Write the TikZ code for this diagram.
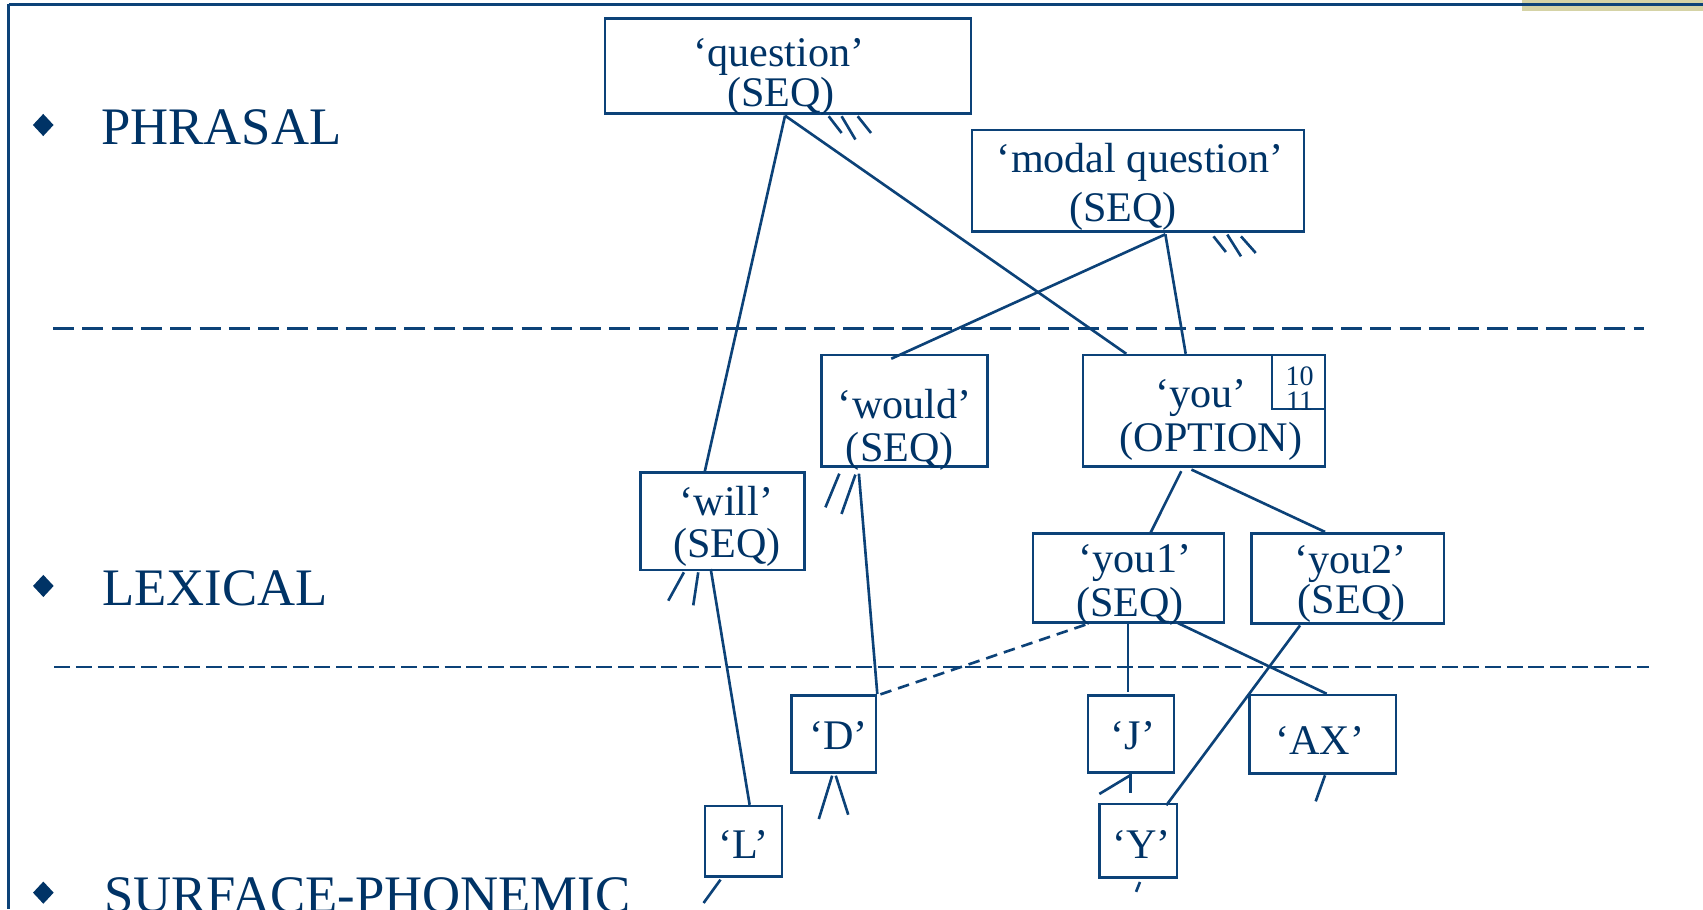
\documentclass[tikz,border=0pt]{standalone}
\usepackage{fontspec}
\setmainfont{Liberation Serif}
\definecolor{navy}{RGB}{0,51,102}
\definecolor{rulecol}{RGB}{12,66,120}
\definecolor{tabcol}{RGB}{213,211,166}
\def\pxu{0.010861cm}
\tikzset{
  unit/.style={draw=rulecol, line width=0.75pt, inner sep=0pt, rectangle},
  unitlabel/.style={font=\fontsize{12pt}{14pt}\selectfont, text=navy, anchor=base, inner sep=0pt},
  idxlabel/.style={font=\fontsize{8pt}{9pt}\selectfont, text=navy, anchor=base, inner sep=0pt},
  levellabel/.style={font=\fontsize{15pt}{18pt}\selectfont, text=navy, anchor=base west, inner sep=0pt},
  bullet/.style={fill=navy},
  link/.style={draw=rulecol, line width=0.75pt},
  linkdash/.style={link, dash pattern=on 3.3pt off 2pt},
  stub/.style={draw=rulecol, line width=0.75pt},
  levelrule/.style={draw=rulecol, line width=0.8pt, dash pattern=on 5.97pt off 2.36pt},
  levelrulethin/.style={draw=rulecol, line width=0.6pt, dash pattern=on 4.55pt off 1.62pt},
  frame/.style={draw=rulecol, line width=0.75pt},
}

\begin{document}
\begin{tikzpicture}[x=0.010861cm, y=-0.010861cm]
\useasboundingbox (0,0) rectangle (1568,837);
% slide frame
\fill[tabcol] (1401,0) rectangle (1568,10);
\draw[frame] (7.9,3.9) -- (1568,3.9);
\draw[frame] (7.9,3.9) -- (7.9,837);
% levels
\fill[bullet] (39.8,104.9) -- (49.3,115.1) -- (39.8,125.3) -- (30.3,115.1) -- cycle;
\fill[bullet] (39.9,529.3) -- (49.4,539.5) -- (39.9,549.7) -- (30.4,539.5) -- cycle;
\fill[bullet] (39.9,811.7) -- (49.4,821.9) -- (39.9,832.1) -- (30.4,821.9) -- cycle;
\node[levellabel] (phrasal) at (92.7,132.6) {PHRASAL};
\node[levellabel] (lexical) at (93.7,557.3) {LEXICAL};
\node[levellabel] (surface) at (95.4,840) {SURFACE-PHONEMIC};
\draw[levelrule] (49,302.3) -- (1513.7,302.3);
\draw[levelrulethin] (50,614.4) -- (1518,614.4);
% phrasal units
\node[unit, minimum width=337*\pxu, minimum height=87.3*\pxu] (question) at (725.5,60.6) {};
\node[unitlabel] (question-a) at (717,60.8) {‘question’};
\node[unitlabel] (question-b) at (719,97.6) {(SEQ)};
\node[unit, minimum width=305.6*\pxu, minimum height=93.6*\pxu] (modalq) at (1047.8,166.5) {};
\node[unitlabel] (modalq-a) at (1050,159) {‘modal question’};
\node[unitlabel] (modalq-b) at (1034,204) {(SEQ)};
% lexical units
\node[unit, minimum width=153.2*\pxu, minimum height=102.8*\pxu] (would) at (832.8,378.3) {};
\node[unitlabel] (would-a) at (833,385) {‘would’};
\node[unitlabel] (would-b) at (828.5,425) {(SEQ)};
\node[unit, minimum width=223*\pxu, minimum height=102.7*\pxu] (you) at (1108.5,378.3) {};
\node[unitlabel] (you-a) at (1106,375) {‘you’};
\node[unitlabel] (you-b) at (1115,416) {(OPTION)};
\node[unit, minimum width=49*\pxu, minimum height=49.6*\pxu] (youidx) at (1195.5,351.8) {};
\node[idxlabel] (youidx-a) at (1196.6,354.5) {10};
\node[idxlabel] (youidx-b) at (1196.6,378.4) {11};
\node[unit, minimum width=151.2*\pxu, minimum height=89.9*\pxu] (will) at (665.1,479.9) {};
\node[unitlabel] (will-a) at (669,475) {‘will’};
\node[unitlabel] (will-b) at (669.5,513) {(SEQ)};
\node[unit, minimum width=176*\pxu, minimum height=82*\pxu] (youone) at (1039,532.4) {};
\node[unitlabel] (youone-a) at (1045,527.3) {‘you1’};
\node[unitlabel] (youone-b) at (1040.5,567.8) {(SEQ)};
\node[unit, minimum width=177*\pxu, minimum height=83*\pxu] (youtwo) at (1241,532.5) {};
\node[unitlabel] (youtwo-a) at (1243.4,527.9) {‘you2’};
\node[unitlabel] (youtwo-b) at (1244.5,565.3) {(SEQ)};
% surface units
\node[unit, minimum width=77.7*\pxu, minimum height=71.2*\pxu] (phD) at (767.7,675.8) {};
\node[unitlabel] (phD-a) at (771.9,690) {‘D’};
\node[unit, minimum width=79.2*\pxu, minimum height=71.2*\pxu] (phJ) at (1041.4,675.8) {};
\node[unitlabel] (phJ-a) at (1043,690) {‘J’};
\node[unit, minimum width=135*\pxu, minimum height=72*\pxu] (phAX) at (1217.8,676) {};
\node[unitlabel] (phAX-a) at (1215,695) {‘AX’};
\node[unit, minimum width=71*\pxu, minimum height=65*\pxu] (phL) at (684.5,774.7) {};
\node[unitlabel] (phL-a) at (684.3,790.3) {‘L’};
\node[unit, minimum width=71.5*\pxu, minimum height=67.5*\pxu] (phY) at (1048,774) {};
\node[unitlabel] (phY-a) at (1051.2,790.3) {‘Y’};
% realisation links
\draw[link] ([shift={(-2.7,1)}]question.south) -- ([shift={(-16.1,0)}]will.north);
\draw[link] ([shift={(-2.7,1)}]question.south) -- ([shift={(-71.5,0)}]you.north);
\draw[link] ([shift={(25.2,1.2)}]modalq.south) -- ([shift={(-12.2,4.6)}]would.north);
\draw[link] ([shift={(25.2,1.2)}]modalq.south) -- ([shift={(-16.8,0)}]you.north);
\draw[link] ([shift={(-42,5.2)}]would.south) -- (phD.north east);
\draw[link] ([shift={(-10.7,-2.1)}]will.south) -- ([shift={(5.7,0)}]phL.north);
\draw[link] ([shift={(-20.9,3)}]you.south) -- ([shift={(19.9,1.2)}]youone.north);
\draw[link] ([shift={(-11.5,1.5)}]you.south) -- ([shift={(-21,0)}]youtwo.north);
\draw[link] ([shift={(-0.4,0)}]youone.south) -- ([shift={(-2.8,-1.8)}]phJ.north);
\draw[link] ([shift={(45.6,-0.9)}]youone.south) -- ([shift={(3.7,0)}]phAX.north);
\draw[link] ([shift={(-44,0.6)}]youtwo.south) -- ([shift={(-11.1,2.4)}]phY.north east);
\draw[linkdash] ([shift={(49.5,0.6)}]youone.south west) -- ([shift={(0,1.3)}]phD.north east);
% open ends
\draw[stub] ([shift={(37.5,1.6)}]question.south) -- ++(11.9,15.4);
\draw[stub] ([shift={(49.4,1.6)}]question.south) -- ++(12.7,21.4);
\draw[stub] ([shift={(64.2,1.6)}]question.south) -- ++(12.3,15.4);
\draw[stub] ([shift={(69.5,3.1)}]modalq.south) -- ++(11.4,14.4);
\draw[stub] ([shift={(82.2,1.5)}]modalq.south) -- ++(12.6,20);
\draw[stub] ([shift={(94.8,3.1)}]modalq.south) -- ++(13.6,15.3);
\draw[stub] ([shift={(-60,5.2)}]would.south) -- ++(-12.8,31);
\draw[stub] ([shift={(-45.2,6.1)}]would.south) -- ++(-12.8,36.2);
\draw[stub] ([shift={(-35.4,0.9)}]will.south) -- ++(-14.4,26.1);
\draw[stub] ([shift={(-22.2,0.9)}]will.south) -- ++(-4.6,30.4);
\draw[stub] ([shift={(-1.5,1.6)}]phD.south) -- ++(-12.3,39.9);
\draw[stub] ([shift={(1.8,1.6)}]phD.south) -- ++(11.5,35.9);
\draw[stub] ([shift={(-0.7,0)}]phJ.south) -- ++(0,17.5);
\draw[stub] ([shift={(-0.7,1.2)}]phJ.south) -- ++(-28.5,17.2);
\draw[stub] ([shift={(2.2,0.6)}]phAX.south) -- ++(-8.6,24);
\draw[stub] ([shift={(1.6,3.1)}]phY.south) -- ++(-3.6,9.1);
\draw[stub] ([shift={(-21.1,1.5)}]phL.south) -- ++(-15.6,21.5);
\end{tikzpicture}
\end{document}
